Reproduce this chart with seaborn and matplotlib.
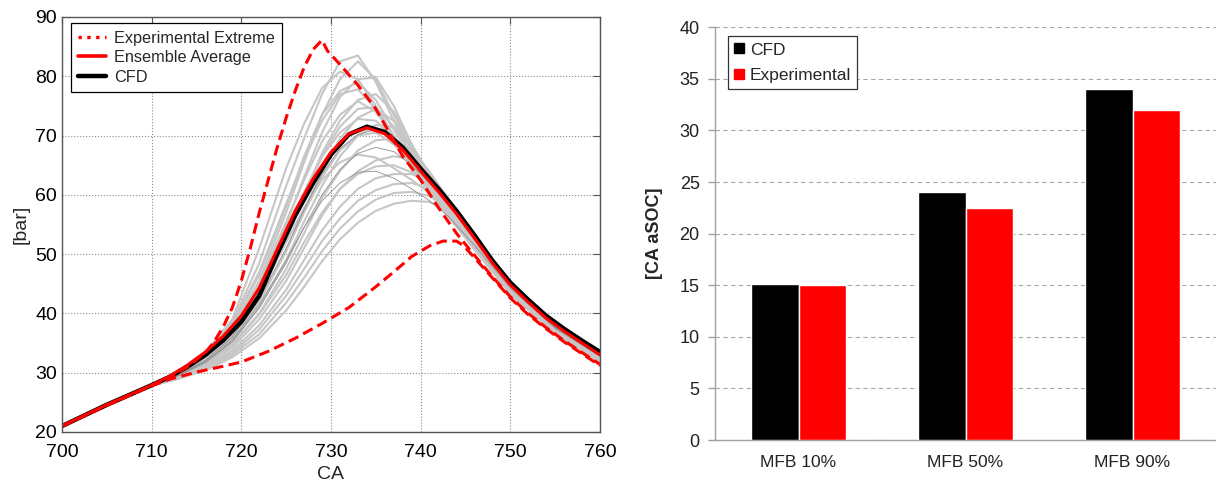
import numpy as np
import pandas as pd
import matplotlib
matplotlib.use("Agg")
import matplotlib.pyplot as plt
from matplotlib.lines import Line2D
import seaborn as sns

# ------------------------------------------------------------------
# Datos
# ------------------------------------------------------------------

# Curvas principales (panel izquierdo)
ca_main = [700, 705, 710, 712, 714, 716, 718, 720, 722, 724, 726, 728, 730, 732,
           734, 736, 738, 740, 742, 744, 746, 748, 750, 752, 754, 756, 758, 760]
p_cfd = [21.0, 24.6, 27.9, 29.3, 31.0, 33.0, 35.5, 38.6, 43.0, 50.0, 56.5, 62.0, 66.8, 70.2,
         71.5, 70.6, 68.0, 64.4, 61.0, 57.3, 53.2, 48.9, 45.2, 42.3, 39.6, 37.4, 35.4, 33.5]
p_avg = [21.0, 24.6, 27.9, 29.4, 31.3, 33.5, 36.2, 39.6, 44.3, 50.8, 57.3, 62.7, 67.2, 70.3,
         71.3, 70.3, 67.6, 64.0, 60.5, 56.8, 52.7, 48.5, 44.8, 41.9, 39.2, 37.0, 35.0, 33.0]

ca_ext_hi = [700, 705, 710, 712, 714, 716, 717, 718, 719, 720, 721, 722, 723, 724, 725, 726, 727,
             728, 729, 729.6, 731, 733, 735, 736.5, 738, 740, 742, 744, 746, 748, 750, 752,
             754, 756, 758, 760]
p_ext_hi = [21.0, 24.5, 27.8, 29.2, 31.0, 33.4, 35.3, 37.8, 41.0, 45.5, 51.0, 57.0, 62.5, 68.0,
            73.0, 77.5, 81.5, 84.5, 86.1, 84.3, 82.0, 78.5, 74.5, 70.5, 66.5, 62.5, 57.8, 53.5,
            49.8, 46.2, 42.8, 40.0, 37.6, 35.4, 33.4, 31.4]

ca_ext_lo = [700, 705, 710, 712, 715, 718, 720, 723, 726, 729, 732, 735, 737, 739, 741,
             742.5, 744, 744.8, 746, 748, 750, 752, 754, 756, 758, 760]
p_ext_lo = [21.0, 24.5, 27.8, 28.9, 30.1, 31.1, 31.8, 33.6, 35.8, 38.3, 41.0, 44.5, 47.0,
            49.6, 51.4, 52.2, 52.2, 51.4, 49.4, 46.0, 42.6, 39.8, 37.4, 35.2, 33.2, 31.2]

# Ciclos experimentales individuales (gris)
ca_cycles = [700, 710, 713, 716, 719, 722, 725, 727, 729, 731, 733, 735, 737, 739, 741, 743, 746, 750, 755, 760]
cyc01 = [21.0, 27.8, 30.0, 33.2, 38.5, 48.5, 61.5, 69.5, 77.0, 82.5, 83.5, 79.0, 72.5, 66.5, 61.5, 57.0, 51.0, 43.5, 36.8, 32.0]
cyc02 = [21.0, 27.8, 29.9, 32.8, 37.5, 45.5, 57.0, 65.5, 73.5, 79.5, 82.5, 79.5, 73.5, 67.5, 62.5, 58.0, 51.8, 44.0, 37.2, 32.4]
cyc03 = [21.0, 27.8, 30.1, 33.5, 39.0, 51.0, 64.5, 72.0, 78.0, 80.8, 79.5, 75.0, 70.0, 65.0, 61.0, 56.8, 50.8, 43.3, 36.6, 31.8]
cyc04 = [21.0, 27.8, 29.8, 32.5, 37.0, 44.5, 55.0, 63.0, 70.5, 76.5, 79.5, 79.8, 75.0, 68.5, 63.0, 58.5, 52.0, 44.2, 37.3, 32.5]
cyc05 = [21.0, 27.8, 30.0, 33.2, 38.3, 47.0, 58.5, 66.0, 72.5, 77.0, 77.8, 74.5, 69.5, 64.5, 60.5, 56.5, 50.8, 43.5, 36.8, 32.0]
cyc06 = [21.0, 27.8, 29.7, 32.2, 36.3, 43.0, 52.5, 60.0, 67.0, 72.5, 76.0, 77.0, 74.0, 68.5, 63.3, 58.8, 52.3, 44.5, 37.5, 32.7]
cyc07 = [21.0, 27.8, 29.9, 32.8, 37.5, 45.0, 55.5, 62.5, 69.0, 73.5, 75.8, 74.0, 70.0, 65.5, 61.5, 57.5, 51.5, 44.0, 37.2, 32.4]
cyc08 = [21.0, 27.8, 29.6, 32.0, 35.8, 42.0, 50.5, 57.5, 64.0, 69.5, 73.0, 74.5, 72.5, 68.0, 63.5, 59.0, 52.6, 44.8, 37.7, 32.9]
cyc09 = [21.0, 27.8, 29.8, 32.5, 36.8, 44.0, 53.5, 60.5, 66.5, 70.5, 72.8, 72.5, 69.5, 65.5, 61.8, 58.0, 52.0, 44.3, 37.4, 32.6]
cyc10 = [21.0, 27.8, 29.5, 31.8, 35.3, 41.0, 49.0, 55.5, 61.5, 66.5, 70.0, 71.8, 71.5, 68.0, 63.8, 59.3, 52.8, 45.0, 37.8, 33.0]
cyc11 = [21.0, 27.8, 29.6, 32.0, 35.8, 42.0, 50.5, 57.0, 63.0, 67.5, 70.0, 70.5, 68.5, 65.5, 62.0, 58.3, 52.3, 44.6, 37.5, 32.8]
cyc12 = [21.0, 27.8, 29.4, 31.5, 34.8, 40.0, 47.5, 53.5, 59.5, 64.0, 67.5, 69.2, 69.5, 67.5, 63.8, 59.5, 53.0, 45.1, 37.9, 33.1]
cyc13 = [21.0, 27.8, 29.5, 31.7, 35.2, 41.0, 48.5, 54.5, 60.0, 64.3, 67.0, 68.0, 67.3, 65.0, 62.0, 58.5, 52.5, 44.8, 37.7, 33.0]
cyc14 = [21.0, 27.8, 29.3, 31.2, 34.2, 39.0, 45.5, 51.0, 56.5, 61.0, 64.0, 65.8, 66.5, 66.0, 63.5, 59.5, 53.2, 45.2, 38.0, 33.2]
cyc15 = [21.0, 27.8, 29.4, 31.4, 34.6, 39.8, 46.5, 52.0, 57.0, 61.0, 63.5, 64.8, 65.0, 63.8, 61.5, 58.3, 52.5, 44.9, 37.8, 33.0]
cyc16 = [21.0, 27.8, 29.2, 31.0, 33.7, 38.0, 44.0, 49.0, 54.0, 58.0, 61.0, 62.8, 63.5, 63.5, 62.3, 59.3, 53.2, 45.3, 38.0, 33.2]
cyc17 = [21.0, 27.8, 29.1, 30.8, 33.3, 37.3, 43.0, 47.5, 52.2, 56.0, 59.0, 60.8, 61.8, 62.0, 61.0, 58.7, 53.0, 45.2, 38.0, 33.1]
cyc18 = [21.0, 27.8, 29.0, 30.6, 33.0, 36.5, 41.8, 46.0, 50.5, 54.3, 57.2, 59.2, 60.3, 60.5, 59.8, 57.8, 52.6, 45.0, 37.9, 33.0]
cyc19 = [21.0, 27.8, 29.0, 30.4, 32.6, 35.8, 40.5, 44.5, 48.8, 52.5, 55.3, 57.3, 58.5, 59.0, 58.8, 57.2, 52.3, 44.9, 37.8, 32.9]
cyc20 = [21.0, 27.8, 29.6, 31.9, 35.5, 41.5, 49.0, 54.5, 59.0, 62.0, 63.8, 64.0, 62.8, 61.0, 59.0, 56.5, 51.5, 44.3, 37.5, 32.8]
cyc21 = [21.0, 27.8, 29.8, 32.4, 36.5, 43.3, 52.0, 57.8, 62.5, 65.5, 66.8, 66.3, 64.5, 62.5, 60.3, 57.5, 51.8, 44.3, 37.4, 32.7]
cyc22 = [21.0, 27.8, 30.0, 33.0, 38.0, 46.5, 58.0, 66.5, 73.5, 77.5, 79.0, 76.0, 71.0, 66.0, 61.8, 57.5, 51.5, 43.8, 37.0, 32.2]
cyc23 = [21.0, 27.8, 29.7, 32.3, 36.5, 43.5, 53.0, 60.0, 66.5, 71.5, 74.5, 74.8, 71.5, 67.0, 62.5, 58.5, 52.3, 44.5, 37.5, 32.7]
cyc24 = [21.0, 27.8, 29.6, 32.1, 36.0, 42.5, 51.0, 57.5, 63.5, 67.8, 70.2, 71.0, 69.5, 66.5, 62.8, 58.8, 52.5, 44.7, 37.6, 32.8]
dark_cycles = ["cyc13", "cyc20", "cyc24"]

# Panel derecho: angulos de combustion
stages = ["MFB 10%", "MFB 50%", "MFB 90%"]
cfd_vals = [15.1, 24.0, 34.0]
exp_vals = [15.0, 22.5, 32.0]

# ------------------------------------------------------------------
# Figura
# ------------------------------------------------------------------
sns.set_theme(style="white")
plt.rcParams["font.family"] = ["Liberation Sans", "DejaVu Sans"]

fig = plt.figure(figsize=(12.16, 4.95), dpi=100)
ax1 = fig.add_axes([0.051, 0.1273, 0.4424, 0.8384])
ax2 = fig.add_axes([0.588, 0.111, 0.412, 0.834])

# --- panel izquierdo: presion en camara ---
all_cycles = [cyc01, cyc02, cyc03, cyc04, cyc05, cyc06, cyc07, cyc08, cyc09, cyc10, cyc11, cyc12,
              cyc13, cyc14, cyc15, cyc16, cyc17, cyc18, cyc19, cyc20, cyc21, cyc22, cyc23, cyc24]
rows = []
for i, vals in enumerate(all_cycles, start=1):
    name = f"cyc{i:02d}"
    for ca, p in zip(ca_cycles, vals):
        rows.append({"cycle": name, "CA": ca, "p": p, "dark": name in dark_cycles})
df_cyc = pd.DataFrame(rows)

sns.lineplot(data=df_cyc[~df_cyc["dark"]], x="CA", y="p", units="cycle", estimator=None,
             color="#c6c6c6", lw=1.5, ax=ax1, legend=False)
sns.lineplot(data=df_cyc[df_cyc["dark"]], x="CA", y="p", units="cycle", estimator=None,
             color="#8e8e8e", lw=0.6, ax=ax1, legend=False)

sns.lineplot(x=ca_main, y=p_cfd, color="black", lw=3.2, ax=ax1)
sns.lineplot(x=ca_main, y=p_avg, color="red", lw=2.2, ax=ax1)
sns.lineplot(x=ca_ext_hi, y=p_ext_hi, color="red", lw=2.2, linestyle=(0, (3.5, 1.8)), ax=ax1)
sns.lineplot(x=ca_ext_lo, y=p_ext_lo, color="red", lw=2.2, linestyle=(0, (3.5, 1.8)), ax=ax1)

ax1.set_xlim(700, 760)
ax1.set_ylim(20, 90)
ax1.set_xticks(range(700, 761, 10))
ax1.set_yticks(range(20, 91, 10))
ax1.grid(True, linestyle=":", color="#8c8c8c", lw=0.8)
ax1.tick_params(direction="in", top=True, right=True, length=5, width=0.8,
                colors="#555555", labelcolor="black", labelsize=14)
ax1.tick_params(axis="x", pad=9)
ax1.tick_params(axis="y", pad=3.5)
for s in ax1.spines.values():
    s.set_color("#555555")
    s.set_linewidth(1.0)
ax1.set_xlabel("CA", fontsize=14, labelpad=3)
ax1.set_ylabel("[bar]", fontsize=14, labelpad=4)

handles = [Line2D([], [], color="red", ls=":", lw=2.4),
           Line2D([], [], color="red", ls="-", lw=2.6),
           Line2D([], [], color="black", ls="-", lw=3.2)]
leg1 = ax1.legend(handles, ["Experimental Extreme", "Ensemble Average", "CFD"],
                  loc="upper left", bbox_to_anchor=(0.016, 0.985), fontsize=11.7,
                  frameon=True, fancybox=False, framealpha=1, edgecolor="black",
                  handlelength=1.7, handletextpad=0.5, labelspacing=0.28,
                  borderpad=0.45, borderaxespad=0)
leg1.get_frame().set_linewidth(0.9)

# --- panel derecho: barras ---
df_bar = pd.DataFrame({
    "stage": stages * 2,
    "model": ["CFD"] * len(stages) + ["Experimental"] * len(stages),
    "val": cfd_vals + exp_vals,
})
sns.barplot(data=df_bar, x="stage", y="val", hue="model", palette=["black", "red"],
            width=0.57, saturation=1, ax=ax2, legend=False, zorder=3)

ax2.set_xlim(-0.5, 2.5)
ax2.set_ylim(0, 40)
ax2.set_yticks(range(0, 41, 5))
ax2.set_axisbelow(True)
ax2.yaxis.grid(True, linestyle=(0, (4, 3)), color="#a8a8a8", lw=0.8)
ax2.xaxis.grid(False)
ax2.spines["top"].set_visible(False)
ax2.spines["right"].set_visible(False)
for s in ["left", "bottom"]:
    ax2.spines[s].set_color("#a0a0a0")
    ax2.spines[s].set_linewidth(1.0)
ax2.set_xticks([-0.5, 0.5, 1.5, 2.5], minor=True)
ax2.tick_params(axis="x", which="major", length=0, labelsize=12.5, pad=11, labelcolor="#222222")
ax2.tick_params(axis="x", which="minor", length=5, color="#a0a0a0", width=1.0)
ax2.tick_params(axis="y", left=True, length=5, color="#a0a0a0", width=1.0,
                labelsize=13, labelcolor="#222222", pad=6)
ax2.set_xlabel("")
ax2.set_ylabel("[CA aSOC]", fontsize=13, fontweight="bold", labelpad=12)

sq = [Line2D([], [], ls="none", marker="s", markersize=6.5, color="black"),
      Line2D([], [], ls="none", marker="s", markersize=6.5, color="red")]
leg2 = ax2.legend(sq, ["CFD", "Experimental"], loc="upper left",
                  bbox_to_anchor=(0.026, 0.978), fontsize=12.5, frameon=True,
                  fancybox=False, framealpha=1, edgecolor="#333333",
                  handlelength=0.6, handletextpad=0.3, labelspacing=0.6,
                  borderpad=0.35, borderaxespad=0)
leg2.get_frame().set_linewidth(0.9)

fig.savefig("out.png", dpi=100)
